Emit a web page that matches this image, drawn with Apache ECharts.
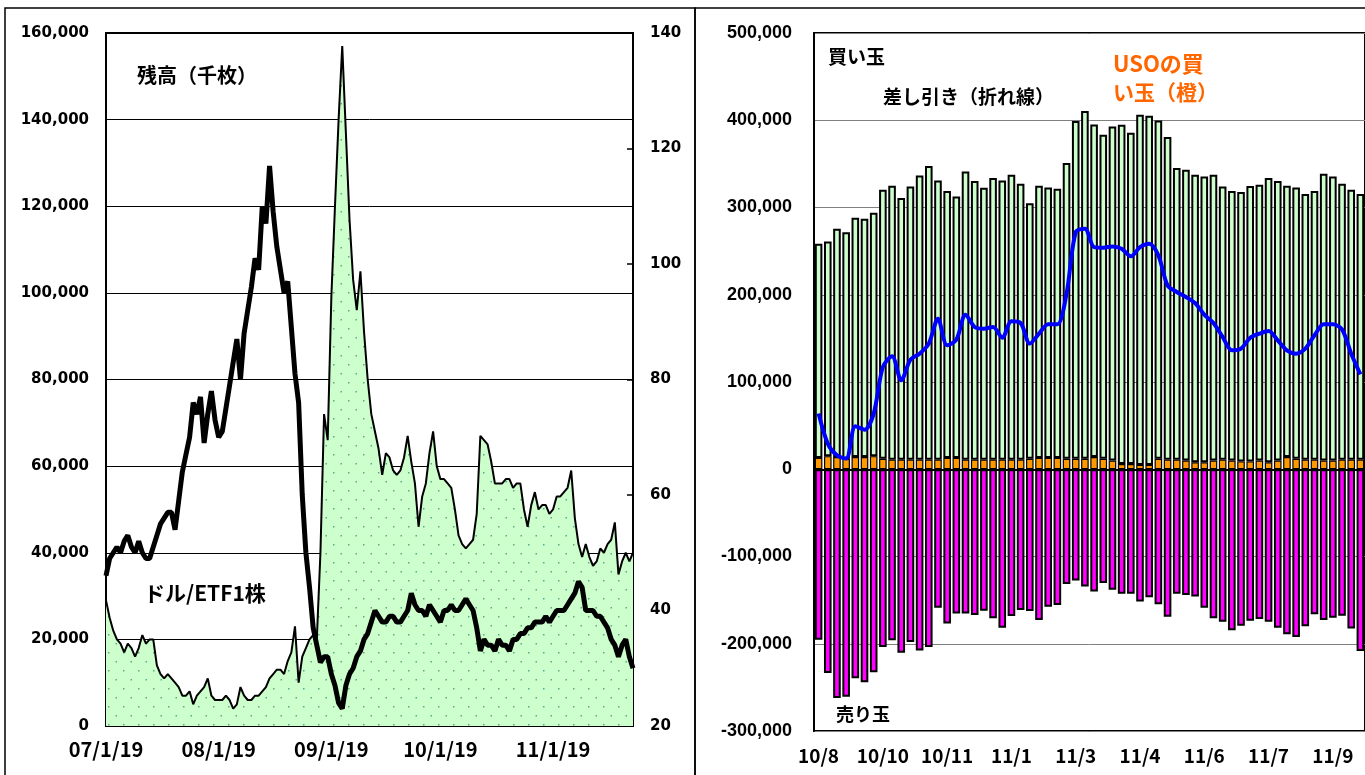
<!DOCTYPE html>
<html>
<head>
<meta charset="utf-8">
<script src="https://cdn.jsdelivr.net/npm/echarts@6/dist/echarts.min.js"></script>
<style>
  html, body { margin: 0; padding: 0; background: #fff; }
  #main { width: 1365px; height: 775px; }
</style>
</head>
<body>
<div id="main"></div>
<script>
// 左：残高(千枚) と ドル/ETF1株、2019/7/1 から日次
var startDate = new Date(2019, 6, 1);
var dayCount = 146;
var balanceK = [
  29, 25, 22, 20, 19, 17, 19, 18, 16, 18,
  21, 19, 20, 20, 14, 12, 11, 12, 11, 10,
  9, 7, 7, 8, 5, 7, 8, 9, 11, 7,
  6, 6, 6, 7, 6, 4, 5, 9, 7, 6,
  6, 7, 7, 8, 9, 11, 12, 13, 13, 12,
  15, 17, 23, 10, 16, 18, 20, 21, 20, 40,
  72, 66, 99, 120, 140, 157, 137, 117, 103, 96,
  105, 91, 80, 72, 68, 64, 58, 63, 62, 59,
  58, 59, 62, 67, 61, 56, 46, 53, 56, 63,
  68, 60, 57, 57, 56, 55, 50, 44, 42, 41,
  42, 43, 49, 67, 66, 65, 61, 56, 56, 56,
  57, 57, 55, 56, 56, 50, 46, 51, 54, 50,
  51, 51, 49, 50, 53, 53, 54, 55, 59, 48,
  42, 39, 42, 39, 37, 38, 41, 40, 42, 43,
  47, 35, 38, 40, 38, 40
];
var price = [
  46, 49, 50, 51, 50, 52, 53, 51, 50, 52,
  50, 49, 49, 51, 53, 55, 56, 57, 57, 54,
  59, 64, 67, 70, 76, 74, 77, 69, 74, 78,
  73, 70, 71, 75, 79, 83, 87, 80, 88, 92,
  96, 101, 99, 110, 107, 117, 109, 103, 99, 95,
  97, 89, 81, 76, 60, 50, 44, 37, 34, 31,
  32, 32, 29, 27, 24, 23, 27, 29, 30, 32,
  33, 35, 36, 38, 40, 39, 38, 38, 39, 39,
  38, 38, 39, 40, 43, 41, 40, 40, 39, 41,
  40, 39, 38, 40, 40, 41, 40, 40, 41, 42,
  41, 40, 37, 33, 35, 34, 34, 33, 35, 34,
  34, 33, 35, 35, 36, 36, 37, 37, 38, 38,
  38, 39, 38, 39, 40, 40, 40, 41, 42, 43,
  45, 44, 40, 40, 40, 39, 39, 38, 37, 35,
  34, 32, 34, 35, 32, 30
];

// 右：週次 買い玉・USOの買い玉・売り玉・差し引き (千)
var weekTicks = ['10/8', '10/10', '10/11', '11/1', '11/3', '11/4', '11/6', '11/7', '11/9'];
var longTotalK = [
  258.5, 261, 275.7, 271.5, 288.3, 287, 294, 320.4, 325, 311,
  324, 336.8, 347.5, 331, 318.8, 312.7, 341.4, 330.3, 322.7, 333.7,
  331, 337.5, 327.2, 305, 325, 323, 321.5, 351, 399, 410.5,
  395, 383.4, 392.9, 394.8, 385.7, 406.3, 405.1, 399.8, 380.7, 345.2,
  343.3, 337.6, 335.6, 337.6, 324.2, 318.8, 317.7, 324.6, 326.1, 333.7,
  330.3, 325, 323, 315.4, 318.8, 338.7, 335.6, 327.2, 320.4, 315.4
];
var usoLongK = [
  13, 15, 14, 12, 14, 14, 15, 12, 11, 11,
  11, 11, 11, 11, 13, 13, 11, 11, 11, 11,
  11, 11, 11, 12, 13, 13, 13, 12, 12, 12,
  14, 12, 10, 6, 6, 5, 5, 12, 11, 11,
  10, 8, 8, 10, 11, 10, 9, 9, 10, 8,
  10, 14, 12, 11, 11, 10, 10, 11, 11, 11
];
var shortK = [
  -195.3, -233.5, -262.3, -260.8, -239.6, -244.2, -232.7, -203.8, -196, -210.3,
  -197.9, -207.6, -203.8, -158.7, -176.8, -165.2, -165.2, -167.1, -162.1, -170.9,
  -181.7, -168.3, -161.3, -162.4, -172.8, -157.5, -155.6, -131.6, -127.4, -134.3,
  -140.1, -130.5, -138.2, -142.8, -142.8, -151.7, -146.6, -154.8, -169.1, -142.8,
  -144, -145.9, -158.7, -170.9, -174.8, -184.4, -179.4, -173.6, -171.7, -174.8,
  -181.7, -189.1, -192.2, -179.8, -166.3, -172.8, -170.2, -167.9, -182.6, -208.4
];
var netK = [
  63.8, 29.4, 16, 12.2, 49.3, 45.4, 63.8, 117.2, 129.4, 102,
  125.6, 132.5, 144, 172.6, 142, 148.5, 177.2, 163, 161.1, 163,
  150.8, 169.5, 167.6, 144, 155.4, 166.1, 166.1, 201.3, 271.8, 275.7,
  254.6, 254, 255.4, 252.8, 244, 254.6, 258.5, 245.1, 210.8, 203.1,
  197.4, 190.5, 177.2, 167.6, 151.6, 136.3, 138.2, 150.8, 155.4, 158.4,
  147.8, 136.3, 132.5, 138.2, 153.5, 166.1, 166.1, 160.3, 132.5, 108.8
];

var days = [];
for (var i = 0; i < dayCount; i++) {
  var d = new Date(startDate.getTime() + i * 86400000);
  var m = d.getMonth() + 1;
  days.push((m < 10 ? '0' + m : '' + m) + '/' + d.getDate() + '/' + String(d.getFullYear()).slice(2));
}
var isMonthStart = function (idx) { return days[idx].split('/')[1] === '1'; };

var weeks = longTotalK.map(function (v, i) { return i % 7 === 0 ? weekTicks[i / 7] : ''; });

// 点々模様の塗り
var pat = document.createElement('canvas');
pat.width = 15; pat.height = 18;
var pc = pat.getContext('2d');
pc.fillStyle = '#ccffcc';
pc.fillRect(0, 0, 15, 18);
pc.fillStyle = '#5aa98a';
pc.fillRect(3, 4, 1.5, 1.5);
pc.fillRect(10.5, 13, 1.5, 1.5);

var fmt = function (v) { return v.toLocaleString('en-US'); };
var jp = '"Noto Sans CJK JP", sans-serif';
var barStyle = function (c, w) { return { color: c, borderColor: '#000', borderWidth: w }; };

var chart = echarts.init(document.getElementById('main'));
chart.setOption({
  animation: false,
  backgroundColor: '#fff',
  grid: [
    { left: 106, top: 33, width: 527, height: 693, show: true, borderColor: '#000', borderWidth: 2 },
    { left: 814, top: 33, width: 553, height: 698, show: true, borderColor: '#000', borderWidth: 2 }
  ],
  xAxis: [
    {
      type: 'category', gridIndex: 0, data: days, boundaryGap: false,
      axisLine: { show: true, lineStyle: { color: '#000', width: 2 } },
      axisTick: { show: true, inside: true, length: 7, interval: isMonthStart, lineStyle: { color: '#000', width: 1.5 } },
      axisLabel: { interval: isMonthStart, color: '#000', fontFamily: jp, fontWeight: 'bold', fontSize: 20, margin: 13 },
      splitLine: { show: false }
    },
    {
      type: 'category', gridIndex: 1, data: weeks,
      axisLine: { show: true, lineStyle: { color: '#000', width: 2 } },
      axisTick: { show: false },
      axisLabel: { interval: 0, color: '#000', fontFamily: jp, fontWeight: 'bold', fontSize: 19, margin: 15 },
      splitLine: { show: false }
    }
  ],
  yAxis: [
    {
      type: 'value', gridIndex: 0, min: 0, max: 160000, interval: 20000,
      axisLine: { show: true, lineStyle: { color: '#000', width: 2 } },
      axisTick: { show: false },
      axisLabel: { color: '#000', fontFamily: 'DejaVu Sans', fontWeight: 'bold', fontSize: 15, margin: 17, formatter: fmt },
      splitLine: { show: true, lineStyle: { color: '#000', width: 1 } }
    },
    {
      type: 'value', gridIndex: 0, position: 'right', min: 20, max: 140, interval: 20,
      axisLine: { show: true, lineStyle: { color: '#000', width: 2 } },
      axisTick: { show: true, inside: true, length: 6, lineStyle: { color: '#000', width: 1.5 } },
      axisLabel: { color: '#000', fontFamily: 'DejaVu Sans', fontWeight: 'bold', fontSize: 15, margin: 17 },
      splitLine: { show: false }
    },
    {
      type: 'value', gridIndex: 1, min: -300000, max: 500000, interval: 100000,
      axisLine: { show: true, lineStyle: { color: '#000', width: 2 } },
      axisTick: { show: false },
      axisLabel: { color: '#000', fontFamily: 'Liberation Sans', fontWeight: 'bold', fontSize: 18, margin: 22, formatter: fmt },
      splitLine: { show: true, lineStyle: { color: '#808080', width: 1 } }
    }
  ],
  series: [
    {
      name: '残高', type: 'line', xAxisIndex: 0, yAxisIndex: 0, z: 2,
      data: balanceK.map(function (v) { return v * 1000; }),
      symbol: 'none', lineStyle: { color: '#000', width: 2 },
      areaStyle: { color: { image: pat, repeat: 'repeat' }, opacity: 1 }
    },
    {
      name: 'ドル/ETF1株', type: 'line', xAxisIndex: 0, yAxisIndex: 1, z: 3,
      data: price, symbol: 'none', lineStyle: { color: '#000', width: 5 }
    },
    {
      name: 'USOの買い玉', type: 'bar', xAxisIndex: 1, yAxisIndex: 2, stack: 'pos', barWidth: 7.6,
      data: usoLongK.map(function (v) { return v * 1000; }),
      itemStyle: barStyle('#ff9900', 1.2)
    },
    {
      name: '買い玉', type: 'bar', xAxisIndex: 1, yAxisIndex: 2, stack: 'pos', barWidth: 7.6,
      data: longTotalK.map(function (v, i) { return (v - usoLongK[i]) * 1000; }),
      itemStyle: barStyle('#ccffcc', 2)
    },
    {
      name: '売り玉', type: 'bar', xAxisIndex: 1, yAxisIndex: 2, stack: 'pos', barWidth: 7.6,
      data: shortK.map(function (v) { return v * 1000; }),
      itemStyle: barStyle('#ff00ff', 2)
    },
    {
      name: '差し引き', type: 'line', xAxisIndex: 1, yAxisIndex: 2, z: 5, smooth: 0.3,
      data: netK.map(function (v) { return v * 1000; }),
      symbol: 'none', lineStyle: { color: '#0000ff', width: 4 }
    }
  ],
  graphic: [
    { type: 'rect', silent: true, z: 100, shape: { x: 5, y: 8, width: 690, height: 800 }, style: { fill: 'none', stroke: '#000', lineWidth: 1.5 } },
    { type: 'rect', silent: true, z: 100, shape: { x: 695, y: 8, width: 700, height: 800 }, style: { fill: 'none', stroke: '#000', lineWidth: 1.5 } },
    { type: 'text', z: 100, x: 137, y: 75, style: { text: '残高（千枚）', font: 'bold 20px ' + jp, fill: '#000', verticalAlign: 'middle' } },
    { type: 'text', z: 100, x: 144, y: 593, style: { text: 'ドル/ETF1株', font: 'bold 21px ' + jp, fill: '#000', verticalAlign: 'middle' } },
    { type: 'text', z: 100, x: 828, y: 57, style: { text: '買い玉', font: 'bold 19px ' + jp, fill: '#000', verticalAlign: 'middle' } },
    { type: 'text', z: 100, x: 883, y: 97, style: { text: '差し引き（折れ線）', font: 'bold 19px ' + jp, fill: '#000', verticalAlign: 'middle' } },
    { type: 'text', z: 100, x: 1113, y: 64, style: { text: 'USOの買', font: 'bold 22px ' + jp, fill: '#ff6600', verticalAlign: 'middle' } },
    { type: 'text', z: 100, x: 1113, y: 92, style: { text: 'い玉（橙）', font: 'bold 21px ' + jp, fill: '#ff6600', verticalAlign: 'middle' } },
    { type: 'text', z: 100, x: 836, y: 714, style: { text: '売り玉', font: 'bold 18px ' + jp, fill: '#000', verticalAlign: 'middle' } }
  ]
});
</script>
</body>
</html>
